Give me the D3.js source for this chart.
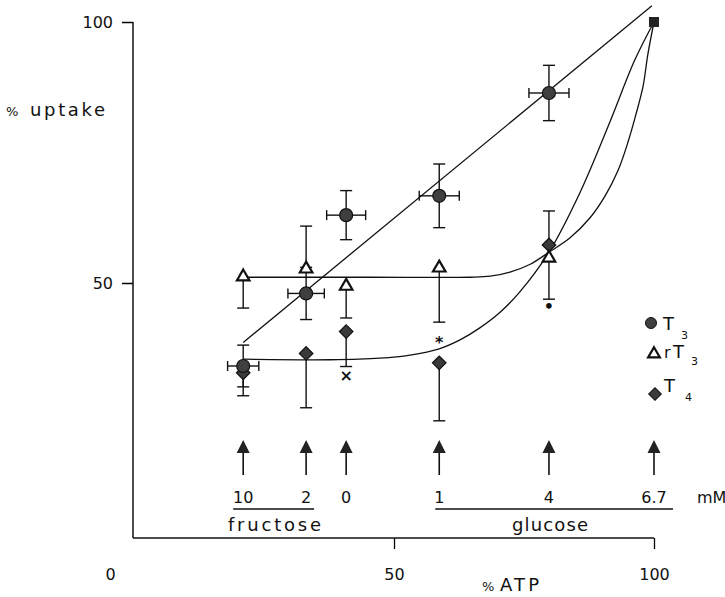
<!DOCTYPE html>
<html>
<head>
<meta charset="utf-8">
<script src="https://cdn.jsdelivr.net/npm/d3@7"></script>
<style>
	body { margin: 0; background: #fff; }
	text { font-family: "DejaVu Sans", sans-serif; fill: #111; }
</style>
</head>
<body>
<div id="viz"></div>
<script>

// % ATP at each condition (x), and sugar concentration under each arrow
var atp = [21, 33.1, 40.8, 58.7, 79.8, 100];
var conc = ["10", "2", "0", "1", "4", "6.7"];

// T3 (filled circles), mean +- sd in both directions
var t3 = [34.1, 48.0, 63.0, 66.7, 86.4];
var t3Err = [4.0, 5.0, 4.7, 6.1, 5.3];
var t3ErrX = [3.0, 3.5, 3.75, 3.85, 3.85];

// rT3 (open triangles), one sided bars
var rt3 = [51.2, 52.7, 49.4, 52.9, 54.8];
var rt3Up = [0, 8.2, 0, 0, 0];
var rt3Down = [6.0, 0, 6.1, 10.4, 7.9];

// T4 (diamonds), one sided bars
var t4 = [32.8, 36.5, 40.7, 34.7, 57.3];
var t4Up = [0, 0, 0, 0, 6.5];
var t4Down = [4.4, 10.4, 6.7, 11.1, 0];

// all three at 100% ATP = 100
var ref = [100, 100];

// fitted lines
var t3Fit = [[21, 38.6], [99.6, 103.1]];
var rt3Fit = [[21, 51.1], [45, 51.1], [64.6, 51.1], [68.5, 51.3], [72.3, 52.1], [76.2, 53.6], [79.8, 55.9], [83.8, 58.6], [87.7, 62.5], [90.6, 66.7], [93.1, 71.6], [95.0, 77.0], [96.5, 82.2], [97.9, 87.7], [98.8, 93.7], [100, 100]];
var t4Fit = [[21, 35.4], [37.7, 35.3], [47.3, 35.6], [53.1, 36.2], [58.7, 37.4], [62.7, 39.1], [66.5, 41.4], [70.4, 44.4], [74.2, 48.3], [79.8, 55.9], [85.8, 67.4], [91.5, 80.8], [96.3, 92.7], [100, 100]];

// significance marks
var marks = [[40.8, 32.2, "×"], [58.7, 38.5, "*"], [79.8, 45.4, "•"]];

var width = 725;
var height = 597;

var svg = d3.select("#viz")
	.append("svg")
	.attr("width", width)
	.attr("height", height);

var x = d3.scaleLinear().domain([0, 100]).range([134, 654]);
var y = d3.scaleLinear().domain([0, 100]).range([544, 22]);
var axisY = 538;

// axes
var gy = svg.append("g")
	.attr("transform", "translate(133,0)")
	.call(d3.axisLeft(y).tickValues([50, 100]).tickSize(11).tickPadding(9));
gy.select(".domain").remove();
gy.append("line").attr("y1", y(100)).attr("y2", axisY).attr("stroke", "#111").attr("stroke-width", 1.5);

var gx = svg.append("g")
	.attr("transform", "translate(0," + axisY + ")")
	.call(d3.axisBottom(x).tickValues([0, 50, 100]).tickSize(11));
gx.select(".domain").remove();
gx.append("line").attr("x1", 133).attr("x2", x(100)).attr("stroke", "#111").attr("stroke-width", 1.5);
gx.selectAll(".tick line").attr("stroke-width", d => d === 0 ? 0 : 1.3);
gx.selectAll(".tick text")
	.attr("y", 42).attr("dy", 0)
	.attr("dx", d => d === 0 ? -24 : 0);

svg.selectAll(".tick text").style("font-size", "16px").style("font-family", "DejaVu Sans");
gy.selectAll(".tick line").attr("stroke-width", 1.5);

svg.append("text").attr("x", 6).attr("y", 116).style("font-size", "13px").text("%");
svg.append("text").attr("x", 30).attr("y", 116).style("font-size", "18px")
	.attr("textLength", 75).attr("lengthAdjust", "spacing").text("uptake");
svg.append("text").attr("x", 482).attr("y", 591).style("font-size", "13px").text("%");
svg.append("text").attr("x", 500).attr("y", 591).style("font-size", "18px")
	.attr("textLength", 39).attr("lengthAdjust", "spacing").text("ATP");

// fitted lines
var line = d3.line().x(d => x(d[0])).y(d => y(d[1]));
var curve = d3.line().x(d => x(d[0])).y(d => y(d[1])).curve(d3.curveCatmullRom.alpha(0.5));

svg.append("path").attr("d", line(t3Fit)).attr("fill", "none").attr("stroke", "#111").attr("stroke-width", 1.3);
svg.append("path").attr("d", curve(rt3Fit)).attr("fill", "none").attr("stroke", "#111").attr("stroke-width", 1.3);
svg.append("path").attr("d", curve(t4Fit)).attr("fill", "none").attr("stroke", "#111").attr("stroke-width", 1.3);

// error bars
var bars = svg.append("g").attr("stroke", "#111").attr("stroke-width", 1.4);

function vbars(vals, up, down) {
	vals.forEach((v, i) => {
		var cx = x(atp[i]);
		[v + up[i], v - down[i]].forEach(e => {
			if (e === v) return;
			bars.append("line").attr("x1", cx).attr("x2", cx).attr("y1", y(v)).attr("y2", y(e));
			bars.append("line").attr("x1", cx - 6).attr("x2", cx + 6).attr("y1", y(e)).attr("y2", y(e));
		});
	});
}
vbars(t3, t3Err, t3Err);
vbars(rt3, rt3Up, rt3Down);
vbars(t4, t4Up, t4Down);

t3.forEach((v, i) => {
	var cy = y(v);
	[atp[i] - t3ErrX[i], atp[i] + t3ErrX[i]].forEach(e => {
		bars.append("line").attr("x1", x(atp[i])).attr("x2", x(e)).attr("y1", cy).attr("y2", cy);
		bars.append("line").attr("x1", x(e)).attr("x2", x(e)).attr("y1", cy - 5).attr("y2", cy + 5);
	});
});

// markers
var tri = d3.symbol(d3.symbolTriangle, 68);
var sq = d3.symbol(d3.symbolSquare, 92);

svg.selectAll("path.t4")
	.data(t4)
	.enter()
	.append("path")
	.attr("class", "t4")
	.attr("d", sq)
	.attr("transform", (d, i) => "translate(" + x(atp[i]) + "," + y(d) + ") rotate(45)")
	.attr("fill", "#3a3a3a")
	.attr("stroke", "#111")
	.attr("stroke-width", 1.2);

svg.selectAll("circle.t3")
	.data(t3)
	.enter()
	.append("circle")
	.attr("class", "t3")
	.attr("cx", (d, i) => x(atp[i]))
	.attr("cy", d => y(d))
	.attr("r", 6.5)
	.attr("fill", "#3f3f3f")
	.attr("stroke", "#111")
	.attr("stroke-width", 1.2);

svg.selectAll("path.rt3")
	.data(rt3)
	.enter()
	.append("path")
	.attr("class", "rt3")
	.attr("d", tri)
	.attr("transform", (d, i) => "translate(" + x(atp[i]) + "," + y(d) + ")")
	.attr("fill", "#fff")
	.attr("stroke", "#111")
	.attr("stroke-width", 2.2);

svg.append("path")
	.attr("d", d3.symbol(d3.symbolSquare, 100))
	.attr("transform", "translate(" + x(ref[0]) + "," + y(ref[1]) + ")")
	.attr("fill", "#222");

svg.selectAll("text.mark")
	.data(marks)
	.enter()
	.append("text")
	.attr("class", "mark")
	.attr("x", d => x(d[0]))
	.attr("y", d => y(d[1]) + 5)
	.attr("text-anchor", "middle")
	.style("font-size", "16px")
	.style("font-weight", "bold")
	.text(d => d[2]);

// arrows and concentrations
var arrows = svg.selectAll("g.arrow")
	.data(atp)
	.enter()
	.append("g")
	.attr("class", "arrow")
	.attr("transform", d => "translate(" + x(d) + ",0)");

arrows.append("line").attr("y1", 450).attr("y2", 475).attr("stroke", "#111").attr("stroke-width", 1.6);
arrows.append("path").attr("d", "M0,440L-6.5,453L6.5,453Z").attr("fill", "#222");
arrows.append("text")
	.attr("y", 503)
	.attr("text-anchor", "middle")
	.style("font-size", "16px")
	.text((d, i) => conc[i]);

svg.append("text").attr("x", 697).attr("y", 503).style("font-size", "16px").text("mM");

svg.append("line").attr("x1", x(atp[0]) - 10).attr("x2", x(atp[1]) + 8).attr("y1", 509).attr("y2", 509).attr("stroke", "#111").attr("stroke-width", 1.3);
svg.append("line").attr("x1", x(atp[3]) - 4).attr("x2", x(atp[5]) + 19).attr("y1", 509).attr("y2", 509).attr("stroke", "#111").attr("stroke-width", 1.3);
svg.append("text").attr("x", 228).attr("y", 531).style("font-size", "18px")
	.attr("textLength", 93).attr("lengthAdjust", "spacing").text("fructose");
svg.append("text").attr("x", 512).attr("y", 531).style("font-size", "18px")
	.attr("textLength", 76).attr("lengthAdjust", "spacing").text("glucose");

// legend
var leg = svg.append("g");
leg.append("circle").attr("cx", 651).attr("cy", 323).attr("r", 5.5).attr("fill", "#3f3f3f").attr("stroke", "#111");
leg.append("text").attr("x", 663).attr("y", 330).style("font-size", "18px").text("T");
leg.append("text").attr("x", 681).attr("y", 339).style("font-size", "11px").text("3");
leg.append("path").attr("d", d3.symbol(d3.symbolTriangle, 60)).attr("transform", "translate(654,354)")
	.attr("fill", "#fff").attr("stroke", "#111").attr("stroke-width", 2.2);
leg.append("text").attr("x", 664).attr("y", 358).style("font-size", "16px").text("r");
leg.append("text").attr("x", 673).attr("y", 358).style("font-size", "18px").text("T");
leg.append("text").attr("x", 691).attr("y", 365).style("font-size", "11px").text("3");
leg.append("path").attr("d", d3.symbol(d3.symbolSquare, 80)).attr("transform", "translate(655,394) rotate(45)")
	.attr("fill", "#3a3a3a").attr("stroke", "#111");
leg.append("text").attr("x", 664).attr("y", 392).style("font-size", "18px").text("T");
leg.append("text").attr("x", 685).attr("y", 401).style("font-size", "11px").text("4");

</script>
</body>
</html>
